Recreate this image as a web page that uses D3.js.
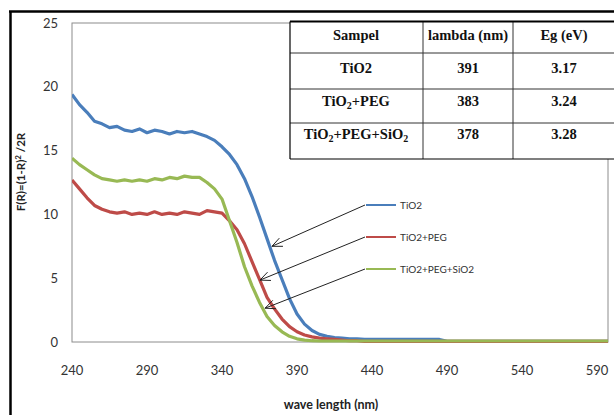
<!DOCTYPE html>
<html>
<head>
<meta charset="utf-8">
<script src="https://cdnjs.cloudflare.com/ajax/libs/d3/7.8.5/d3.min.js"></script>
<style>
  body { margin: 0; background: #fff; }
  svg { display: block; }
</style>
</head>
<body>
<div id="chart"></div>
<script>
// wavelengths (nm), 5 nm step
var wavelengths = [240,245,250,255,260,265,270,275,280,285,290,295,300,305,310,315,320,325,330,335,
  340,345,350,355,360,365,370,375,380,385,390,395,400,405,410,415,420,425,430,435,
  440,445,450,455,460,465,470,475,480,485,490,495,500,505,510,515,520,525,530,535,
  540,545,550,555,560,565,570,575,580,585,590,595,600];

var tio2 = [19.4,18.6,18.0,17.3,17.1,16.8,16.9,16.6,16.5,16.7,16.4,16.6,16.5,16.3,16.5,16.4,16.5,16.3,16.1,15.8,
  15.3,14.7,13.9,12.8,11.4,9.8,8.1,6.4,4.9,3.4,2.2,1.4,0.9,0.6,0.45,0.35,0.3,0.25,0.25,0.2,
  0.2,0.2,0.2,0.2,0.2,0.2,0.2,0.2,0.2,0.2,0.05,0.05,0.05,0.05,0.05,0.05,0.05,0.05,0.05,0.05,
  0.05,0.05,0.05,0.05,0.05,0.05,0.05,0.05,0.05,0.05,0.05,0.05,0.05];

var tio2Peg = [12.7,12.0,11.3,10.7,10.4,10.2,10.1,10.2,10.0,10.1,10.0,10.2,10.0,10.1,10.0,10.2,10.1,10.0,10.3,10.2,
  10.1,9.5,8.8,7.7,6.3,4.9,3.5,2.6,1.8,1.2,0.8,0.55,0.4,0.3,0.25,0.2,0.15,0.1,0.1,0.05,
  0.05,0.05,0.05,0.05,0.05,0.05,0.05,0.05,0.05,0.05,0.05,0.05,0.05,0.05,0.05,0.05,0.05,0.05,0.05,0.05,
  0.05,0.05,0.05,0.05,0.05,0.05,0.05,0.05,0.05,0.05,0.05,0.05,0.05];

var tio2PegSio2 = [14.4,13.9,13.5,13.1,12.8,12.7,12.6,12.7,12.6,12.7,12.6,12.8,12.7,12.9,12.8,13.0,12.9,12.9,12.5,12.0,
  11.2,9.5,7.8,5.9,4.4,3.1,2.0,1.3,0.8,0.45,0.25,0.15,0.1,0.08,0.08,0.08,0.08,0.08,0.08,0.08,
  0.08,0.08,0.08,0.08,0.08,0.08,0.08,0.08,0.08,0.08,0.08,0.08,0.08,0.08,0.08,0.08,0.08,0.08,0.08,0.08,
  0.08,0.08,0.08,0.08,0.08,0.08,0.08,0.08,0.08,0.08,0.08,0.08,0.08];

var seriesNames = ['TiO2', 'TiO2+PEG', 'TiO2+PEG+SiO2'];
var seriesColors = ['#4a7ebb', '#be4b48', '#98b954'];
var seriesValues = [tio2, tio2Peg, tio2PegSio2];

// where each arrow points on its curve: [nm, F(R)]
var arrowTargets = [[373.3, 7.5], [365.3, 4.85], [368.7, 2.65]];

var xTicks = [240, 290, 340, 390, 440, 490, 540, 590];
var yTicks = [0, 5, 10, 15, 20, 25];

// table rows; parts flagged "sub" are subscripts
var tableHeader = ['Sampel', 'lambda (nm)', 'Eg  (eV)'];
var tableSamples = [
  [{t: 'TiO2'}],
  [{t: 'TiO'}, {t: '2', sub: true}, {t: '+PEG'}],
  [{t: 'TiO'}, {t: '2', sub: true}, {t: '+PEG+SiO'}, {t: '2', sub: true}]
];
var tableLambda = ['391', '383', '378'];
var tableEg = ['3.17', '3.24', '3.28'];

var W = 614, H = 415;
var svg = d3.select('#chart').append('svg')
    .attr('width', W)
    .attr('height', H);

var x = d3.scaleLinear().domain([240, 597.3]).range([72, 608]);
var y = d3.scaleLinear().domain([0, 25]).range([342, 23]);

// outer frame (only left and top edges visible)
svg.append('line').attr('x1', 10.5).attr('y1', 11).attr('x2', 10.5).attr('y2', H)
    .attr('stroke', '#000').attr('stroke-width', 2.5);
svg.append('line').attr('x1', 9).attr('y1', 11.5).attr('x2', W).attr('y2', 11.5)
    .attr('stroke', '#000').attr('stroke-width', 2.5);

// plot area border
svg.append('rect')
    .attr('x', 72).attr('y', 23)
    .attr('width', 608 - 72).attr('height', 342 - 23)
    .attr('fill', 'none')
    .attr('stroke', '#8c8c8c')
    .attr('stroke-width', 1);

svg.append('defs').append('clipPath').attr('id', 'plotclip')
  .append('rect').attr('x', 72).attr('y', 20).attr('width', 608 - 72).attr('height', 325);

// tick labels
svg.selectAll('text.ytick')
    .data(yTicks)
  .enter().append('text')
    .attr('class', 'ytick')
    .attr('x', 58)
    .attr('y', (d) => y(d))
    .attr('dy', '0.35em')
    .attr('text-anchor', 'end')
    .attr('font-family', 'Lato, sans-serif')
    .attr('font-size', 13)
    .attr('fill', '#333')
    .text((d) => d);

svg.selectAll('text.xtick')
    .data(xTicks)
  .enter().append('text')
    .attr('class', 'xtick')
    .attr('x', (d) => x(d))
    .attr('y', 375)
    .attr('text-anchor', 'middle')
    .attr('font-family', 'Lato, sans-serif')
    .attr('font-size', 13)
    .attr('fill', '#333')
    .text((d) => d);

// axis titles
svg.append('text')
    .attr('x', 331).attr('y', 409)
    .attr('text-anchor', 'middle')
    .attr('font-family', 'Lato, sans-serif')
    .attr('font-weight', 'bold')
    .attr('font-size', 12.5)
    .attr('fill', '#222')
    .text('wave length (nm)');

var yTitle = svg.append('text')
    .attr('transform', 'translate(25,172) rotate(-90)')
    .attr('text-anchor', 'middle')
    .attr('font-family', 'Lato, sans-serif')
    .attr('font-weight', 'bold')
    .attr('font-size', 11.5)
    .attr('fill', '#222');
yTitle.append('tspan').text('F(R)=(1-R)');
yTitle.append('tspan').attr('font-size', 8).attr('dy', -4).text('2');
yTitle.append('tspan').attr('dy', 4).text(' /2R');

// curves
var line = d3.line()
    .x((d) => x(d[0]))
    .y((d) => y(d[1]));

svg.append('g').attr('clip-path', 'url(#plotclip)')
  .selectAll('path.curve')
    .data(seriesValues)
  .enter().append('path')
    .attr('class', 'curve')
    .attr('d', (vals) => line(wavelengths.map((w, i) => [w, vals[i]])))
    .attr('fill', 'none')
    .attr('stroke', (d, i) => seriesColors[i])
    .attr('stroke-width', 3.2)
    .attr('stroke-linejoin', 'round');

// legend
var legY = [205, 237, 269];
var legend = svg.selectAll('g.leg')
    .data(seriesNames)
  .enter().append('g')
    .attr('class', 'leg');
legend.append('line')
    .attr('x1', 366).attr('x2', 396)
    .attr('y1', (d, i) => legY[i]).attr('y2', (d, i) => legY[i])
    .attr('stroke', (d, i) => seriesColors[i])
    .attr('stroke-width', 2);
legend.append('text')
    .attr('x', 400)
    .attr('y', (d, i) => legY[i])
    .attr('dy', '0.35em')
    .attr('font-family', 'Lato, sans-serif')
    .attr('font-size', 10)
    .attr('fill', '#333')
    .text((d) => d);

// arrows from legend to curves
arrowTargets.forEach(function(t, i) {
  var x0 = 365, y0 = legY[i];
  var x1 = x(t[0]), y1 = y(t[1]);
  var ang = Math.atan2(y0 - y1, x0 - x1);
  var len = 11, spread = 0.42;
  svg.append('line')
      .attr('x1', x0).attr('y1', y0).attr('x2', x1).attr('y2', y1)
      .attr('stroke', '#222').attr('stroke-width', 1);
  svg.append('path')
      .attr('d', 'M' + (x1 + len * Math.cos(ang + spread)) + ',' + (y1 + len * Math.sin(ang + spread)) +
                 'L' + x1 + ',' + y1 +
                 'L' + (x1 + len * Math.cos(ang - spread)) + ',' + (y1 + len * Math.sin(ang - spread)))
      .attr('fill', 'none')
      .attr('stroke', '#222')
      .attr('stroke-width', 1);
});

// table
var colX = [290, 423, 513, 616];
var rowY = [21.5, 53, 89, 123, 159];
var textY = [40, 73, 106, 139];
var tbl = svg.append('g');
tbl.append('rect')
    .attr('x', colX[0]).attr('y', rowY[0])
    .attr('width', colX[3] - colX[0]).attr('height', rowY[4] - rowY[0])
    .attr('fill', '#fff');
rowY.slice(1, 4).forEach(function(ry) {
  tbl.append('line').attr('x1', colX[0]).attr('x2', colX[3]).attr('y1', ry).attr('y2', ry)
      .attr('stroke', '#333').attr('stroke-width', 1);
});
colX.slice(1, 3).forEach(function(cx) {
  tbl.append('line').attr('x1', cx).attr('x2', cx).attr('y1', rowY[0]).attr('y2', rowY[4])
      .attr('stroke', '#333').attr('stroke-width', 1);
});
tbl.append('line').attr('x1', colX[0]).attr('x2', colX[3]).attr('y1', rowY[0]).attr('y2', rowY[0])
    .attr('stroke', '#000').attr('stroke-width', 2);
tbl.append('line').attr('x1', colX[0]).attr('x2', colX[3]).attr('y1', rowY[4]).attr('y2', rowY[4])
    .attr('stroke', '#000').attr('stroke-width', 1.2);
tbl.append('line').attr('x1', colX[0]).attr('x2', colX[0]).attr('y1', rowY[0]).attr('y2', rowY[4])
    .attr('stroke', '#000').attr('stroke-width', 1.2);

function cellText(cx, ty, content) {
  var t = tbl.append('text')
      .attr('x', cx).attr('y', ty)
      .attr('text-anchor', 'middle')
      .attr('font-family', '"Liberation Serif", serif')
      .attr('font-weight', 'bold')
      .attr('font-size', 14.5)
      .attr('fill', '#111');
  if (typeof content === 'string') { t.text(content); return; }
  var wasSub = false;
  content.forEach(function(p) {
    var dy = 0;
    if (p.sub && !wasSub) dy = 3;
    if (!p.sub && wasSub) dy = -3;
    t.append('tspan')
        .attr('dy', dy)
        .attr('font-size', p.sub ? 10 : 14.5)
        .text(p.t);
    wasSub = !!p.sub;
  });
}
var colC = [356, 468, 564];
tableHeader.forEach((h, i) => cellText(colC[i], textY[0], h));
tableSamples.forEach((s, i) => cellText(colC[0], textY[i + 1], s));
tableLambda.forEach((s, i) => cellText(colC[1], textY[i + 1], s));
tableEg.forEach((s, i) => cellText(colC[2], textY[i + 1], s));
</script>
</body>
</html>
